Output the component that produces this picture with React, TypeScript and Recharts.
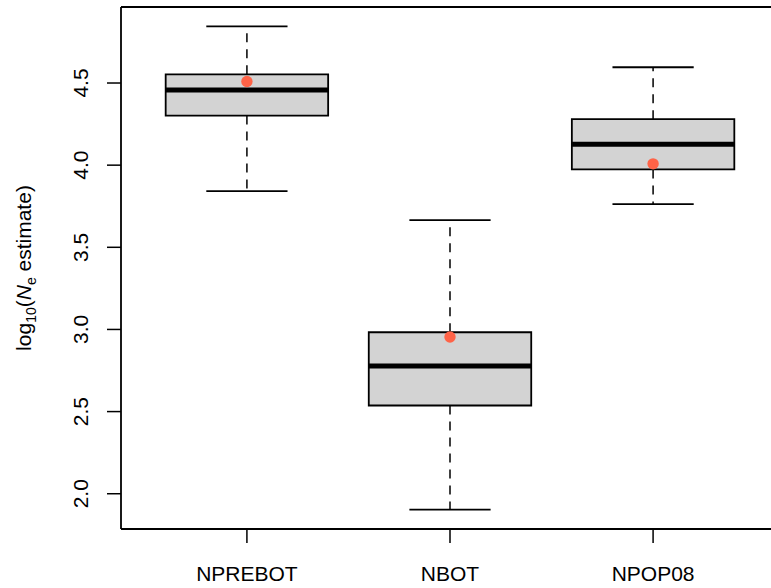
import { ComposedChart, ReferenceArea, ReferenceLine, Scatter, XAxis, YAxis } from "recharts";

const groups = ["NPREBOT", "NBOT", "NPOP08"];
const lowerWhisker = [3.842, 1.903, 3.763];
const q1 = [4.302, 2.537, 3.974];
const median = [4.458, 2.778, 4.128];
const q3 = [4.553, 2.983, 4.28];
const upperWhisker = [4.845, 3.666, 4.596];
const means = [4.509, 2.954, 4.008];
const yTicks = [2.0, 2.5, 3.0, 3.5, 4.0, 4.5];

const FONT = "'Liberation Sans', Arial, Helvetica, sans-serif";
const BOX_HALF = 0.4;
const STAPLE_HALF = 0.2;

// R-style 4% padding on both axes
const yLo = Math.min(...lowerWhisker);
const yHi = Math.max(...upperWhisker);
const yPad = (yHi - yLo) * 0.04;
const yDomain = [yLo - yPad, yHi + yPad];
const xDomain = [0.5 - 0.12, groups.length + 0.5 + 0.12];

const meanData = means.map((m, i) => ({ x: i + 1, y: m }));

function XTick({ x, y, payload }: any) {
  return (
    <text x={x} y={y + 36} textAnchor="middle" fontSize={21} fontFamily={FONT} fill="#000">
      {groups[payload.value - 1]}
    </text>
  );
}

function YTick({ x, y, payload }: any) {
  const bx = x - 4;
  return (
    <text x={bx} y={y} transform={`rotate(-90 ${bx} ${y})`} textAnchor="middle" fontSize={21} fontFamily={FONT} fill="#000">
      {payload.value.toFixed(1)}
    </text>
  );
}

function YTitle({ viewBox }: any) {
  const cx = 31;
  const cy = viewBox.y + viewBox.height / 2;
  return (
    <text x={cx} y={cy} transform={`rotate(-90 ${cx} ${cy})`} textAnchor="middle" fontSize={21} fontFamily={FONT} fill="#000">
      log
      <tspan fontSize={14} dy={5}>10</tspan>
      <tspan dy={-5}>(</tspan>
      <tspan fontStyle="italic">N</tspan>
      <tspan fontSize={14} dy={5}>e</tspan>
      <tspan dy={-5}> estimate)</tspan>
    </text>
  );
}

export default function App() {
  return (
    <div style={{ position: "absolute", left: 0, top: 0, width: 771, height: 588, overflow: "hidden", background: "#fff" }}>
      <ComposedChart width={790} height={588} margin={{ top: 7, right: 11, bottom: 0, left: 0 }}>
        <XAxis
          type="number"
          dataKey="x"
          domain={xDomain}
          ticks={[1, 2, 3]}
          allowDataOverflow
          axisLine={false}
          tickLine={{ stroke: "#000", strokeWidth: 1.5 }}
          tickSize={14}
          tick={<XTick />}
          height={59}
        />
        <YAxis
          type="number"
          dataKey="y"
          domain={yDomain}
          ticks={yTicks}
          allowDataOverflow
          axisLine={false}
          tickLine={{ stroke: "#000", strokeWidth: 1.5 }}
          tickSize={14}
          tickMargin={15}
          tick={<YTick />}
          width={121}
          label={{ content: <YTitle /> }}
        />
        {groups.map((g, i) => (
          <ReferenceLine
            key={`wu-${g}`}
            segment={[{ x: i + 1, y: q3[i] }, { x: i + 1, y: upperWhisker[i] }]}
            stroke="#000"
            strokeWidth={1.5}
            strokeDasharray="9 7"
          />
        ))}
        {groups.map((g, i) => (
          <ReferenceLine
            key={`wl-${g}`}
            segment={[{ x: i + 1, y: q1[i] }, { x: i + 1, y: lowerWhisker[i] }]}
            stroke="#000"
            strokeWidth={1.5}
            strokeDasharray="9 7"
          />
        ))}
        {groups.map((g, i) => (
          <ReferenceLine
            key={`su-${g}`}
            segment={[{ x: i + 1 - STAPLE_HALF, y: upperWhisker[i] }, { x: i + 1 + STAPLE_HALF, y: upperWhisker[i] }]}
            stroke="#000"
            strokeWidth={1.8}
          />
        ))}
        {groups.map((g, i) => (
          <ReferenceLine
            key={`sl-${g}`}
            segment={[{ x: i + 1 - STAPLE_HALF, y: lowerWhisker[i] }, { x: i + 1 + STAPLE_HALF, y: lowerWhisker[i] }]}
            stroke="#000"
            strokeWidth={1.8}
          />
        ))}
        {groups.map((g, i) => (
          <ReferenceArea
            key={`box-${g}`}
            x1={i + 1 - BOX_HALF}
            x2={i + 1 + BOX_HALF}
            y1={q1[i]}
            y2={q3[i]}
            fill="#d3d3d3"
            fillOpacity={1}
            stroke="#000"
            strokeWidth={1.8}
          />
        ))}
        {groups.map((g, i) => (
          <ReferenceLine
            key={`med-${g}`}
            segment={[{ x: i + 1 - BOX_HALF, y: median[i] }, { x: i + 1 + BOX_HALF, y: median[i] }]}
            stroke="#000"
            strokeWidth={5}
          />
        ))}
        {/* plot frame (right edge falls outside the visible area) */}
        <ReferenceLine y={yDomain[1]} stroke="#000" strokeWidth={1.8} />
        <ReferenceLine y={yDomain[0]} stroke="#000" strokeWidth={1.8} />
        <ReferenceLine x={xDomain[0]} stroke="#000" strokeWidth={1.8} />
        <Scatter data={meanData} fill="#ff6347" isAnimationActive={false} shape={(p: any) => <circle cx={p.cx} cy={p.cy} r={5.7} fill="#ff6347" />} />
      </ComposedChart>
    </div>
  );
}
